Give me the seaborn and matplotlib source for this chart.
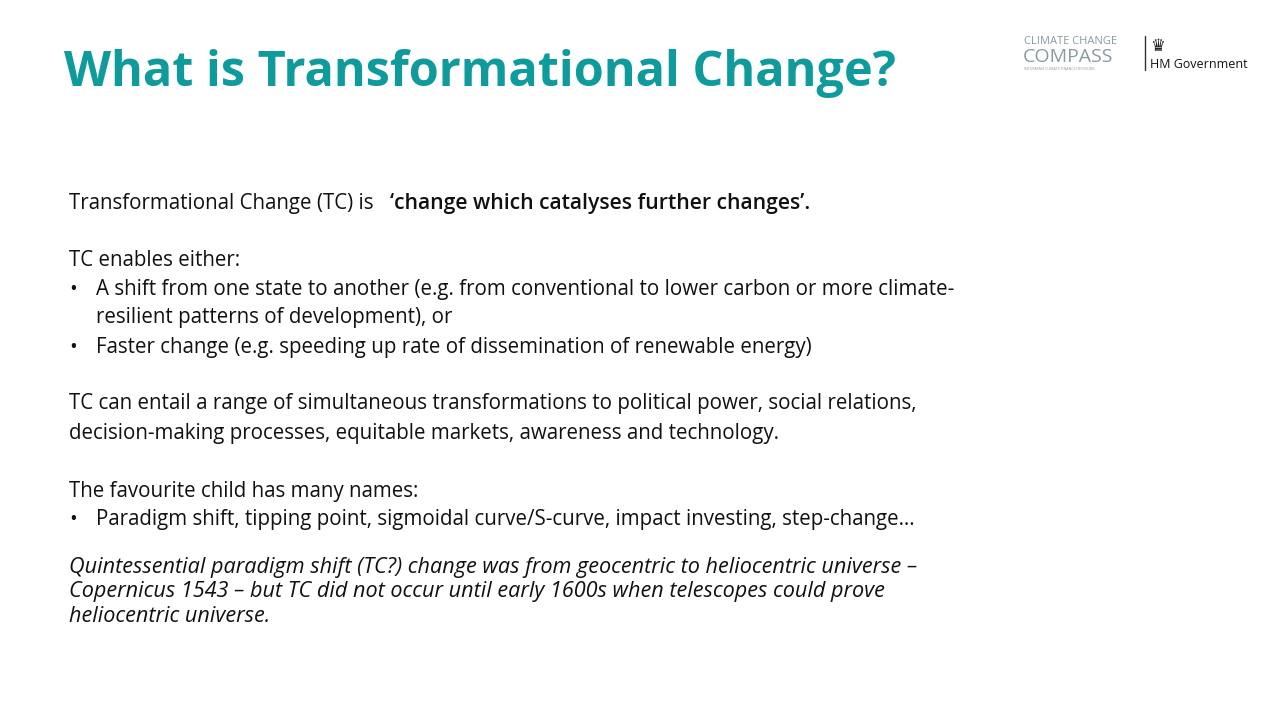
import matplotlib.pyplot as plt
import seaborn as sns

sns.set_theme(style="white")
plt.rcParams['font.family'] = ['Open Sans', 'DejaVu Sans']

title = "What is Transformational Change?"
teal = "#0f9b9b"

# (y pixel from top, x pixel, text, style)
lines = [
    (203, 69, "Transformational Change (TC) is", "normal"),
    (260, 69, "TC enables either:", "normal"),
    (289, 69, "•", "normal"),
    (289, 96, "A shift from one state to another (e.g. from conventional to lower carbon or more climate-", "normal"),
    (318, 96, "resilient patterns of development), or", "normal"),
    (347, 69, "•", "normal"),
    (347, 96, "Faster change (e.g. speeding up rate of dissemination of renewable energy)", "normal"),
    (404, 69, "TC can entail a range of simultaneous transformations to political power, social relations,", "normal"),
    (433, 69, "decision-making processes, equitable markets, awareness and technology.", "normal"),
    (491, 69, "The favourite child has many names:", "normal"),
    (520, 69, "•", "normal"),
    (520, 96, "Paradigm shift, tipping point, sigmoidal curve/S-curve, impact investing, step-change…", "normal"),
    (568, 69, "Quintessential paradigm shift (TC?) change was from geocentric to heliocentric universe –", "italic"),
    (592, 69, "Copernicus 1543 – but TC did not occur until early 1600s when telescopes could prove", "italic"),
    (616, 69, "heliocentric universe.", "italic"),
]
quote = "‘change which catalyses further changes’."

fig = plt.figure(figsize=(12.8, 7.2), dpi=100)
ax = fig.add_axes([0, 0, 1, 1])
ax.set_xlim(0, 1280)
ax.set_ylim(720, 0)
ax.axis("off")

ax.text(64, 74, title, fontsize=35, fontweight="bold", color=teal, va="center", ha="left")

for y, x, s, st in lines:
    fs = 15.6 if st == "italic" else 14.8
    ax.text(x, y, s, fontsize=fs, style=st, color="#111111", va="center", ha="left")
ax.text(390, 203, quote, fontsize=15.2, fontweight="semibold", color="#111111", va="center", ha="left")

# logos
ax.text(1024, 41, "CLIMATE CHANGE", fontsize=8, color="#8a9aa0", va="center")
ax.text(1023, 57, "COMPASS", fontsize=14, color="#8a9aa0", va="center")
ax.text(1024, 69, "INFORMING CLIMATE FINANCE DECISIONS", fontsize=2.5, color="#8a9aa0", va="center")
ax.plot([1145, 1145], [36, 70], color="#333333", lw=1)
ax.text(1150, 46, "♛", fontsize=12, color="#222222", va="center", family="DejaVu Sans")
ax.text(1150, 65, "HM Government", fontsize=9, color="#111111", va="center")

fig.savefig("out.png", dpi=100)
